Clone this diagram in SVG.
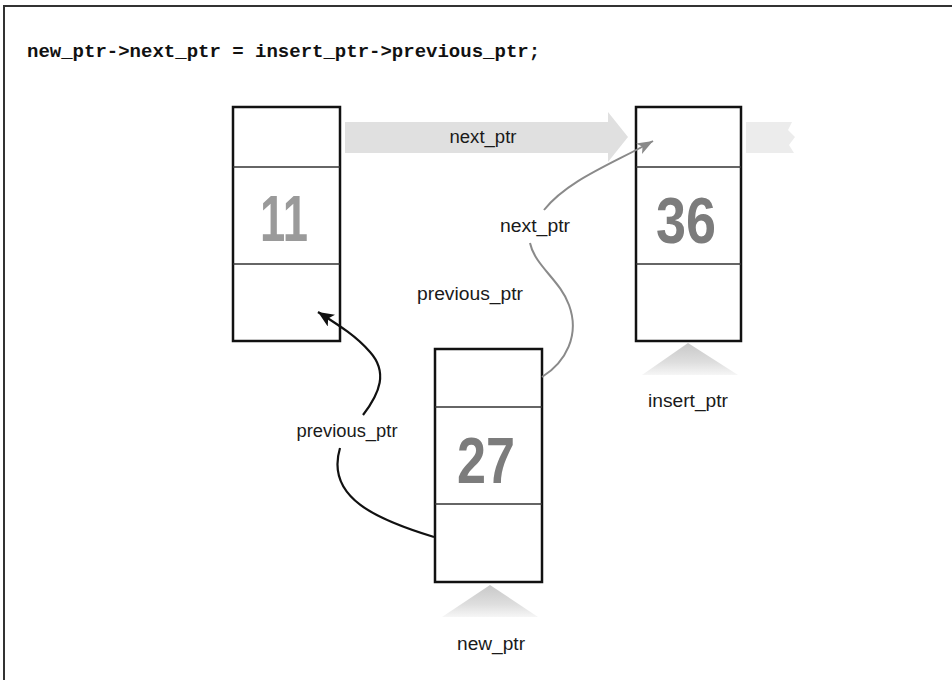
<svg xmlns="http://www.w3.org/2000/svg" width="952" height="680" viewBox="0 0 952 680">
  <style>
    .box { fill: #ffffff; stroke: #111111; stroke-width: 2.5; }
    .div { stroke: #333333; stroke-width: 1.5; }
    .num { font-family: "Liberation Sans", Arial, sans-serif; font-weight: bold; font-size: 64px; text-anchor: middle; }
    .lbl { font-family: "Liberation Sans", Arial, sans-serif; font-size: 18px; fill: #1a1a1a; text-anchor: middle; }
    .code { font-family: "Liberation Mono", "Courier New", monospace; font-weight: bold; font-size: 19px; fill: #111111; }
  </style>
  <defs>
    <linearGradient id="ptrGrad" x1="0" y1="0" x2="0" y2="1">
      <stop offset="0" stop-color="#c8c8c8"/>
      <stop offset="0.6" stop-color="#dedede"/>
      <stop offset="1" stop-color="#f6f6f6"/>
    </linearGradient>
    <marker id="headBlack" markerUnits="userSpaceOnUse" markerWidth="18" markerHeight="14" refX="16" refY="7" orient="auto">
      <path d="M0,0 L16,7 L0,14 L4,7 Z" fill="#111111"/>
    </marker>
    <marker id="headGrey" markerUnits="userSpaceOnUse" markerWidth="18" markerHeight="14" refX="16" refY="7" orient="auto">
      <path d="M0,1 L16,7 L0,13 L4,7 Z" fill="#8a8a8a"/>
    </marker>
  </defs>

  <rect width="952" height="680" fill="#ffffff"/>
  <!-- frame -->
  <path d="M4,680 L4,6 L952,6" fill="none" stroke="#333333" stroke-width="2"/>

  <text class="code" x="27" y="57">new_ptr-&gt;next_ptr = insert_ptr-&gt;previous_ptr;</text>

  <!-- wide grey next_ptr arrow (node 11 -> node 36) -->
  <g id="wide-arrow">
    <polygon points="345,122 608,122 608,112 628,137 608,162 608,153 345,153" fill="#e0e0e0"/>
    <polygon points="746,122 792,122 788,130 795,137 789,145 794,153 746,153" fill="#ececec"/>
    <text class="lbl" x="483" y="143" textLength="67" lengthAdjust="spacingAndGlyphs">next_ptr</text>
  </g>

  <!-- pointer triangles -->
  <g id="insert-ptr">
    <polygon points="688,343 738,375 642,375" fill="url(#ptrGrad)"/>
    <text class="lbl" x="688" y="407" textLength="80" lengthAdjust="spacingAndGlyphs">insert_ptr</text>
  </g>
  <g id="new-ptr">
    <polygon points="490,585 538,617 442,617" fill="url(#ptrGrad)"/>
    <text class="lbl" x="491" y="650" textLength="68" lengthAdjust="spacingAndGlyphs">new_ptr</text>
  </g>

  <!-- nodes -->
  <g id="node-11">
    <rect class="box" x="233" y="107" width="107" height="234"/>
    <line class="div" x1="233" y1="167" x2="340" y2="167"/>
    <line class="div" x1="233" y1="264" x2="340" y2="264"/>
    <text class="num" x="284" y="241" fill="#9a9a9a" textLength="48" lengthAdjust="spacingAndGlyphs">11</text>
  </g>
  <g id="node-36">
    <rect class="box" x="636" y="107" width="105" height="234"/>
    <line class="div" x1="636" y1="167" x2="741" y2="167"/>
    <line class="div" x1="636" y1="264" x2="741" y2="264"/>
    <text class="num" x="686" y="243" fill="#7c7c7c" textLength="60" lengthAdjust="spacingAndGlyphs">36</text>
  </g>
  <g id="node-27">
    <rect class="box" x="435" y="349" width="107" height="233"/>
    <line class="div" x1="435" y1="407" x2="542" y2="407"/>
    <line class="div" x1="435" y1="504" x2="542" y2="504"/>
    <text class="num" x="486" y="483" fill="#7c7c7c" textLength="58" lengthAdjust="spacingAndGlyphs">27</text>
  </g>

  <!-- connectors -->
  <g id="connectors" fill="none">
    <path d="M542,377 C566,362 580,335 569,305 C560,280 535,266 530,243" stroke="#8a8a8a" stroke-width="2"/>
    <path d="M544,210 C568,180 612,164 653,141" stroke="#8a8a8a" stroke-width="2" marker-end="url(#headGrey)"/>
    <path d="M434,537 C378,520 325,498 340,448" stroke="#111111" stroke-width="2.2"/>
    <path d="M363,415 C380,393 388,372 370,352 C356,336 340,326 318,312" stroke="#111111" stroke-width="2.2" marker-end="url(#headBlack)"/>
  </g>

  <g id="labels">
    <text class="lbl" x="535" y="232" textLength="70" lengthAdjust="spacingAndGlyphs">next_ptr</text>
    <text class="lbl" x="470" y="300" textLength="106" lengthAdjust="spacingAndGlyphs">previous_ptr</text>
    <text class="lbl" x="347" y="437" textLength="101" lengthAdjust="spacingAndGlyphs">previous_ptr</text>
  </g>
</svg>
